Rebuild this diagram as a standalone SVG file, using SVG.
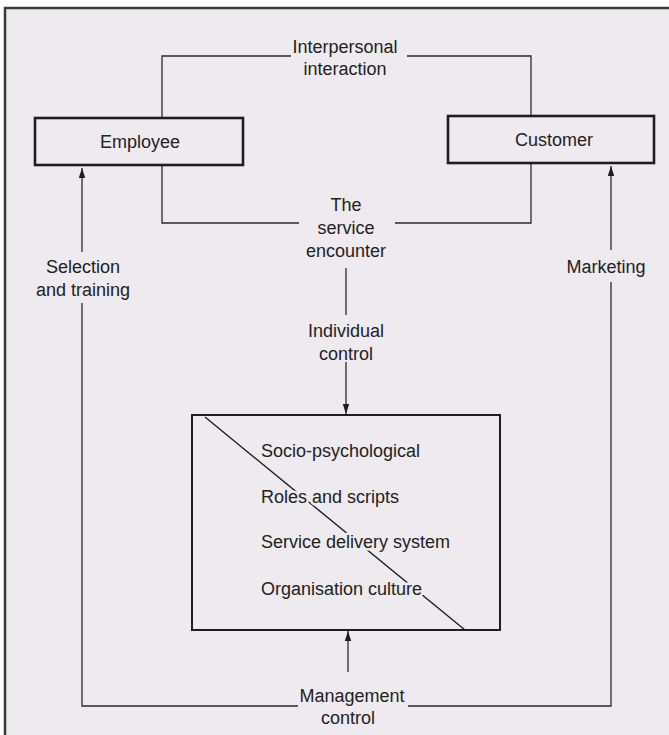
<svg xmlns="http://www.w3.org/2000/svg" width="669" height="735" viewBox="0 0 669 735">
  <defs>
    <marker id="arr" markerUnits="userSpaceOnUse" markerWidth="10" markerHeight="8" refX="10" refY="4" orient="auto">
      <path d="M0,0.8 L10,4 L0,7.2 z" fill="#1e1e1e"/>
    </marker>
    <style>
      text { font-family: "Liberation Sans", Arial, sans-serif; font-size: 18px; fill: #222; }
      .c { text-anchor: middle; }
      .halo { stroke: #eeeaef; stroke-width: 5px; paint-order: stroke; stroke-linejoin: round; }
      .box { fill: none; stroke: #1e1e1e; stroke-width: 2.6; }
      .ln { fill: none; stroke: #2a2a2a; stroke-width: 1.3; }
    </style>
  </defs>
  <rect x="0" y="0" width="669" height="735" fill="#ffffff"/>
  <rect x="5" y="8" width="664" height="727" fill="#eeeaef"/>
  <path d="M5,735 V8 H669" fill="none" stroke="#3a3a3a" stroke-width="2.5"/>

  <g id="connectors">
    <!-- interpersonal interaction loop -->
    <path class="ln" d="M162,117 V56 H291"/>
    <path class="ln" d="M407,56 H531 V115"/>
    <!-- service encounter loop -->
    <path class="ln" d="M162,166 V223 H299"/>
    <path class="ln" d="M395,223 H531 V164"/>
    <!-- selection and training -->
    <path class="ln" d="M82,252 V168" marker-end="url(#arr)"/>
    <path class="ln" d="M82,303 V706 H298"/>
    <!-- marketing -->
    <path class="ln" d="M611,250 V166" marker-end="url(#arr)"/>
    <path class="ln" d="M611,282 V706 H408"/>
    <!-- individual control -->
    <path class="ln" d="M346,268 V315"/>
    <path class="ln" d="M346,362 V414" marker-end="url(#arr)"/>
    <!-- management control -->
    <path class="ln" d="M348,672 V631" marker-end="url(#arr)"/>
  </g>

  <g id="employee">
    <rect class="box" x="35" y="118" width="208" height="47"/>
    <text class="c" x="140" y="148">Employee</text>
  </g>

  <g id="customer">
    <rect class="box" x="448" y="116" width="206" height="47"/>
    <text class="c" x="554" y="146">Customer</text>
  </g>

  <g id="interpersonal-interaction">
    <text class="c" x="345" y="53">Interpersonal</text>
    <text class="c" x="345" y="75">interaction</text>
  </g>

  <g id="service-encounter">
    <text class="c" x="346" y="211">The</text>
    <text class="c" x="346" y="234">service</text>
    <text class="c" x="346" y="257">encounter</text>
  </g>

  <g id="selection-training">
    <text class="c" x="83" y="273">Selection</text>
    <text class="c" x="83" y="296">and training</text>
  </g>

  <g id="marketing">
    <text class="c" x="606" y="273">Marketing</text>
  </g>

  <g id="individual-control">
    <text class="c" x="346" y="337">Individual</text>
    <text class="c" x="346" y="360">control</text>
  </g>

  <g id="service-system">
    <rect x="192" y="415" width="308" height="215" fill="none" stroke="#1e1e1e" stroke-width="2"/>
    <line x1="205" y1="417" x2="465" y2="630" stroke="#1e1e1e" stroke-width="1.4"/>
    <text class="halo" x="261" y="457">Socio-psychological</text>
    <text class="halo" x="261" y="503">Roles and scripts</text>
    <text class="halo" x="261" y="548">Service delivery system</text>
    <text class="halo" x="261" y="595">Organisation culture</text>
  </g>

  <g id="management-control">
    <text class="c" x="352" y="702">Management</text>
    <text class="c" x="348" y="724">control</text>
  </g>
</svg>
